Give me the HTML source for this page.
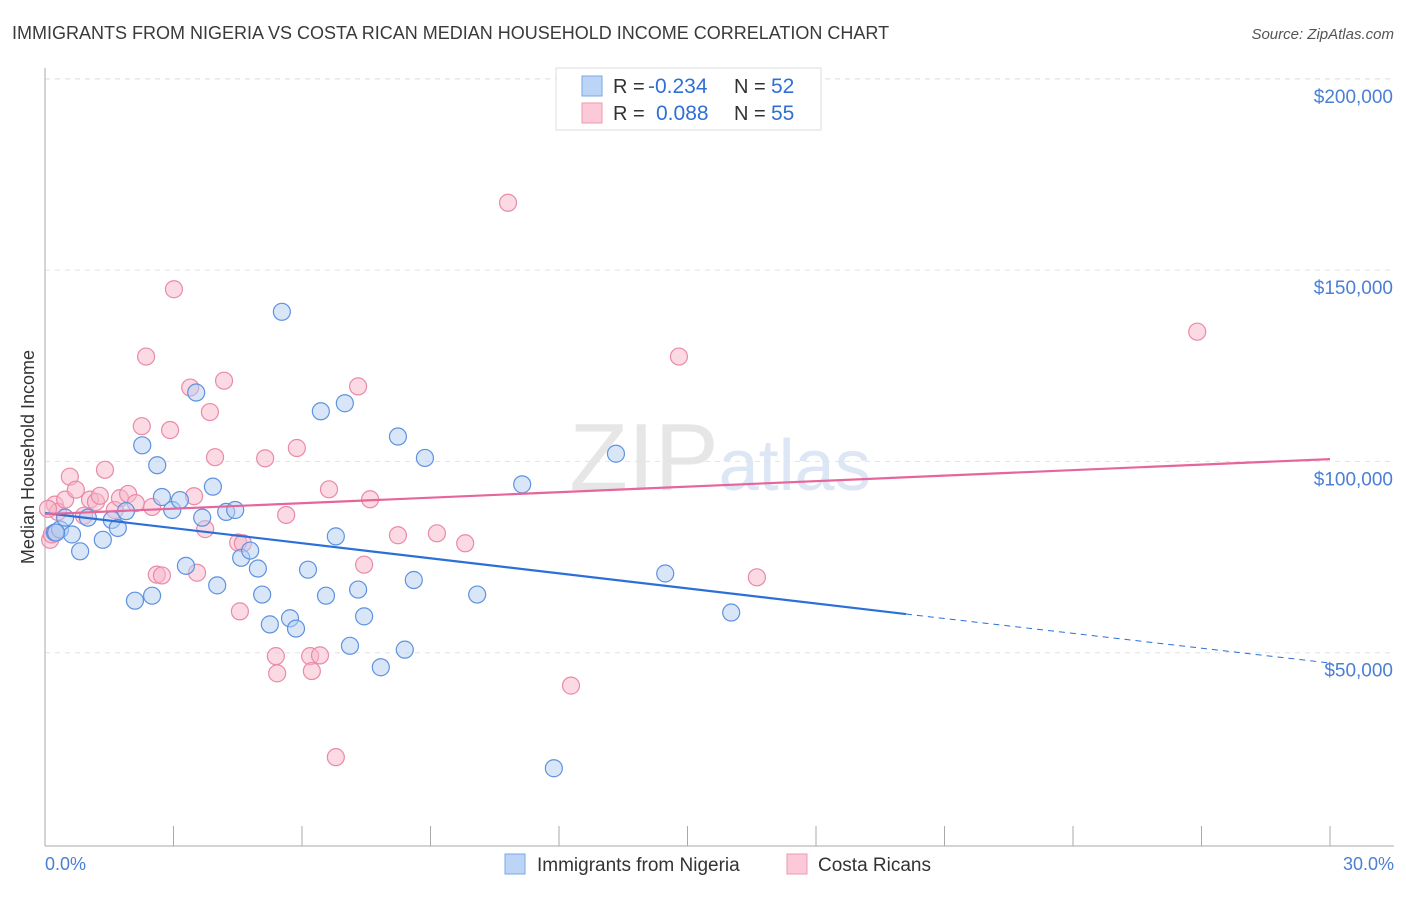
<!DOCTYPE html>
<html><head><meta charset="utf-8"><style>
body{margin:0;background:#fff;font-family:"Liberation Sans",sans-serif}
svg text{font-family:"Liberation Sans",sans-serif}
</style></head><body>
<svg id="chart" width="1406" height="892" xmlns="http://www.w3.org/2000/svg">
<text x="12" y="39" font-size="18" fill="#3a3a3a">IMMIGRANTS FROM NIGERIA VS COSTA RICAN MEDIAN HOUSEHOLD INCOME CORRELATION CHART</text>
<text x="1394" y="39" font-size="15" fill="#555" text-anchor="end" font-style="italic">Source: ZipAtlas.com</text>
<text x="720" y="490" font-size="96" fill="#e6e6e6" text-anchor="middle" font-family="Liberation Serif">ZIP<tspan fill="#dce6f4" font-family="Liberation Sans" font-size="72">atlas</tspan></text>
<g id="grid"></g><g id="axes"></g><g id="pts"></g><g id="lines"></g>
<text transform="translate(34,457) rotate(-90)" font-size="18" fill="#333" text-anchor="middle">Median Household Income</text>
<text x="45" y="870" font-size="18" fill="#4a7fd4">0.0%</text>
<text x="1394" y="870" font-size="18" fill="#4a7fd4" text-anchor="end">30.0%</text>
<g>
<rect x="556" y="68" width="265" height="62" fill="#fff" stroke="#ddd"/>
<rect x="582" y="76" width="20" height="20" fill="#bcd4f5" stroke="#7aa7e6"/>
<rect x="582" y="103" width="20" height="20" fill="#fcc9d8" stroke="#ee9ab3"/>
<text x="613" y="93" font-size="20" fill="#333">R =</text>
<text x="648" y="93" font-size="21" fill="#2f6fd6">-0.234</text>
<text x="734" y="93" font-size="20" fill="#333">N =</text>
<text x="771" y="93" font-size="21" fill="#2f6fd6">52</text>
<text x="613" y="120" font-size="20" fill="#333">R =</text>
<text x="656" y="120" font-size="21" fill="#2f6fd6">0.088</text>
<text x="734" y="120" font-size="20" fill="#333">N =</text>
<text x="771" y="120" font-size="21" fill="#2f6fd6">55</text>
</g>
<g>
<rect x="505" y="854" width="20" height="20" fill="#bcd4f5" stroke="#7aa7e6"/>
<text x="537" y="871" font-size="19" fill="#333">Immigrants from Nigeria</text>
<rect x="787" y="854" width="20" height="20" fill="#fcc9d8" stroke="#ee9ab3"/>
<text x="818" y="871" font-size="19" fill="#333">Costa Ricans</text>
</g>
</svg>
<script>
const yTicks=[50000,100000,150000,200000];
const yTickLabels=["$50,000","$100,000","$150,000","$200,000"];
const xTicks=[0,3,6,9,12,15,18,21,24,27,30];
const blueX=[0.23,0.35,0.47,0.63,0.82,1.0,1.35,1.56,1.7,1.89,2.1,2.27,2.5,2.62,2.73,2.97,3.15,3.29,3.53,3.67,3.92,4.02,4.23,4.44,4.58,4.79,4.97,5.07,5.25,5.53,5.72,5.86,6.14,6.44,6.56,6.79,7.0,7.12,7.31,7.45,7.84,8.24,8.4,8.61,8.87,10.09,11.14,11.88,13.33,14.48,16.02,0.26];
const blueY=[81400,82200,85300,80900,76500,85300,79500,84700,82600,87000,63600,104200,64900,99000,90700,87300,89900,72700,118000,85300,93400,67600,86800,87300,74800,76700,72000,65200,57400,139100,59000,56300,71700,113100,64900,80400,115200,51800,66500,59500,46200,106500,50800,69000,100900,65200,94000,19800,102000,70700,60500,81400];
const pinkX=[0.12,0.23,0.3,0.47,0.58,0.72,0.91,1.05,1.19,1.28,1.4,1.63,1.75,1.94,2.12,2.26,2.36,2.5,2.61,2.73,2.92,3.01,3.39,3.48,3.55,3.74,3.85,3.97,4.18,4.51,4.55,4.62,5.14,5.39,5.42,5.63,5.88,6.19,6.23,6.42,6.63,6.79,7.31,7.45,7.59,8.24,9.15,9.81,10.81,12.28,14.8,16.62,26.9,0.16,0.07];
const pinkY=[79500,88700,86800,90000,96000,92600,85800,90000,89400,91000,97800,87300,90400,91500,89100,109200,127400,88100,70400,70200,108200,145000,119300,90900,70900,82300,112900,101100,121100,78800,60800,78600,100800,49100,44600,86000,103500,49100,45200,49300,92700,22700,119600,73000,90100,80700,81200,78600,167600,41400,127400,69700,133900,80900,87600];
const NS="http://www.w3.org/2000/svg";
const X0=45,X1=1330,Y0=844,PX=191.3/50000;
const xs=v=>X0+(X1-X0)*v/30, ys=v=>Y0-v*PX;
function mk(t,a,p){const e=document.createElementNS(NS,t);for(const k in a)e.setAttribute(k,a[k]);(p||document.getElementById('chart')).appendChild(e);return e;}
const grid=document.getElementById('grid'),axes=document.getElementById('axes'),pts=document.getElementById('pts'),lines=document.getElementById('lines');
yTicks.forEach((v,i)=>{
 const l=mk('line',{x1:X0,x2:1394,y1:ys(v),y2:ys(v),stroke:'#e2e2e2','stroke-dasharray':'5,5'},grid);
 
 
 const t=mk('text',{x:1393,y:ys(v)+24,'font-size':19,fill:'#4a7fd4','text-anchor':'end'},grid);t.textContent=yTickLabels[i];
 
 
});
mk('line',{x1:X0,x2:1394,y1:79,y2:79,stroke:'#e2e2e2','stroke-dasharray':'5,5'},grid);
mk('line',{x1:X0,x2:X0,y1:68,y2:Y0+2,stroke:'#aaa'},axes);
mk('line',{x1:X0,x2:1394,y1:Y0+2,y2:Y0+2,stroke:'#aaa'},axes);
xTicks.forEach(v=>{const l=mk('line',{x1:xs(v),x2:xs(v),y1:826,y2:846,stroke:'#aaa'},axes);
 
 });
function dots(X,Y,f,s,name){X.forEach((x,i)=>{const c=mk('circle',{cx:xs(x),cy:ys(Y[i]),r:8.5,fill:f,'fill-opacity':0.5,stroke:s,'stroke-width':1.2},pts);
 
 });}
dots(pinkX,pinkY,'#f7b6c9','#ea8aa8','costa-rican-point');
dots(blueX,blueY,'#b3cdf2','#5e92e0','nigeria-point');
const bl=mk('line',{x1:X0,y1:ys(86500),x2:xs(20.1),y2:ys(60100),stroke:'#2b6fd8','stroke-width':2.2},lines);


mk('line',{x1:xs(20.1),y1:ys(60100),x2:X1,y2:ys(47300),stroke:'#2b6fd8','stroke-width':1,'stroke-dasharray':'6,5'},lines);
const pl=mk('line',{x1:X0,y1:ys(86200),x2:X1,y2:ys(100600),stroke:'#e5669a','stroke-width':2.2},lines);


</script>
</body></html>
